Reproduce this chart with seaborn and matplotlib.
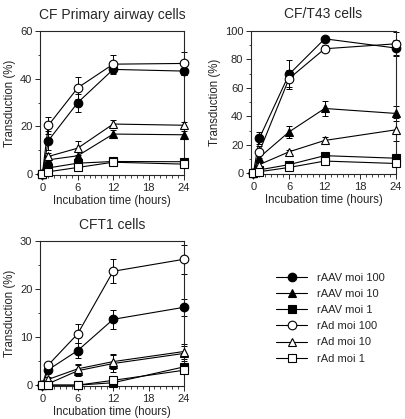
import numpy as np
import pandas as pd
import matplotlib
matplotlib.use("Agg")
import matplotlib.pyplot as plt
from matplotlib.lines import Line2D
from matplotlib.ticker import MultipleLocator
import seaborn as sns

sns.set_style("ticks")
plt.rcParams['font.family'] = ['Liberation Sans', 'DejaVu Sans']

# incubation times (hours)
hours = [0, 1, 6, 12, 24]

series_names = ['rAAV moi 100', 'rAAV moi 10', 'rAAV moi 1',
                'rAd moi 100', 'rAd moi 10', 'rAd moi 1']

# CF primary airway cells
primary_vals = {
    'rAAV moi 100': [0, 14.0, 30.0, 43.9, 43.2],
    'rAAV moi 10': [0, 6.0, 7.7, 16.8, 16.5],
    'rAAV moi 1': [0, 2.6, 4.6, 5.3, 5.2],
    'rAd moi 100': [0, 20.4, 36.2, 46.1, 46.4],
    'rAd moi 10': [0, 7.4, 10.9, 21.0, 20.5],
    'rAd moi 1': [0, 1.0, 2.8, 5.0, 4.2],
}
primary_err = {
    'rAAV moi 100': [0, 4.0, 3.8, 2.1, 1.5],
    'rAAV moi 10': [0, 1.5, 1.5, 1.5, 1.5],
    'rAAV moi 1': [0, 0.5, 0.8, 0.8, 0.8],
    'rAd moi 100': [0, 3.5, 4.6, 3.8, 5.0],
    'rAd moi 10': [0, 1.5, 2.8, 1.8, 1.5],
    'rAd moi 1': [0, 0.5, 0.8, 0.8, 0.8],
}

# CF/T43 cells
t43_vals = {
    'rAAV moi 100': [0, 24.5, 69.5, 94.5, 88.0],
    'rAAV moi 10': [0, 11.0, 29.0, 45.5, 42.0],
    'rAAV moi 1': [0, 2.3, 6.0, 12.3, 10.5],
    'rAd moi 100': [0, 15.0, 66.5, 87.5, 91.0],
    'rAd moi 10': [0, 6.0, 15.0, 23.0, 30.5],
    'rAd moi 1': [0, 1.0, 4.0, 8.5, 6.8],
}
t43_err = {
    'rAAV moi 100': [0, 4.3, 10.0, 1.5, 5.5],
    'rAAV moi 10': [0, 2.5, 4.0, 5.0, 5.5],
    'rAAV moi 1': [0, 0.8, 1.0, 1.5, 1.5],
    'rAd moi 100': [0, 4.0, 6.0, 2.5, 8.0],
    'rAd moi 10': [0, 1.0, 1.2, 2.5, 8.0],
    'rAd moi 1': [0, 0.5, 0.8, 1.0, 1.0],
}

# CFT1 cells
cft1_vals = {
    'rAAV moi 100': [0, 3.2, 7.2, 13.7, 16.2],
    'rAAV moi 10': [0, 0.3, 3.0, 4.5, 6.6],
    'rAAV moi 1': [0, 0, 0, 0.5, 3.8],
    'rAd moi 100': [0, 4.2, 10.7, 23.7, 26.2],
    'rAd moi 10': [0, 1.2, 3.4, 4.9, 7.0],
    'rAd moi 1': [0, 0, 0, 1.0, 3.1],
}
cft1_err = {
    'rAAV moi 100': [0, 0.4, 1.6, 2.0, 1.8],
    'rAAV moi 10': [0, 0.3, 1.2, 1.8, 1.5],
    'rAAV moi 1': [0, 0, 0, 0.3, 0.5],
    'rAd moi 100': [0, 0.4, 2.0, 2.5, 3.0],
    'rAd moi 10': [0, 0.5, 1.0, 1.6, 1.5],
    'rAd moi 1': [0, 0, 0, 0.4, 0.5],
}

styles = {
    'rAAV moi 100': ('o', 'black'),
    'rAAV moi 10': ('^', 'black'),
    'rAAV moi 1': ('s', 'black'),
    'rAd moi 100': ('o', 'white'),
    'rAd moi 10': ('^', 'white'),
    'rAd moi 1': ('s', 'white'),
}


def draw_panel(ax, vals, errs, title, ymax, ymajor, yminor):
    for name in series_names:
        marker, face = styles[name]
        df = pd.DataFrame({'hours': hours, 'value': vals[name]})
        ax.errorbar(df['hours'], df['value'], yerr=errs[name], fmt='none',
                    ecolor='black', elinewidth=0.7, capsize=2, capthick=0.7,
                    clip_on=False, zorder=2)
        sns.lineplot(data=df, x='hours', y='value', ax=ax, color='black',
                     linewidth=0.8, marker=marker, markersize=6.2,
                     markerfacecolor=face, markeredgecolor='black',
                     markeredgewidth=0.8, clip_on=False, zorder=3)
    ax.set_xlim(-0.4, 24)
    ax.set_ylim(-ymax * 0.006, ymax)
    ax.set_xticks([0, 6, 12, 18, 24])
    ax.xaxis.set_minor_locator(MultipleLocator(1))
    ax.yaxis.set_major_locator(MultipleLocator(ymajor))
    ax.yaxis.set_minor_locator(MultipleLocator(yminor))
    ax.tick_params(which='major', length=3.5, width=0.7, labelsize=8, pad=2)
    ax.tick_params(which='minor', length=1.8, width=0.6)
    for sp in ax.spines.values():
        sp.set_linewidth(0.8)
    ax.set_title(title, fontsize=10, pad=9)
    ax.set_xlabel('Incubation time (hours)', fontsize=8.3, labelpad=2)
    ax.set_ylabel('Transduction (%)', fontsize=8.3, labelpad=3)


W, H = 406, 419
fig = plt.figure(figsize=(W / 100, H / 100), dpi=100)
ax1 = fig.add_axes([40 / W, 1 - 175 / H, 144 / W, 144 / H])
ax2 = fig.add_axes([251 / W, 1 - 174 / H, 145 / W, 143 / H])
ax3 = fig.add_axes([40 / W, 1 - 386 / H, 144 / W, 145 / H])

draw_panel(ax1, primary_vals, primary_err, 'CF Primary airway cells', 60, 20, 10)
draw_panel(ax2, t43_vals, t43_err, 'CF/T43 cells', 100, 20, 10)
draw_panel(ax3, cft1_vals, cft1_err, 'CFT1 cells', 30, 10, 5)

handles = []
for name in series_names:
    marker, face = styles[name]
    handles.append(Line2D([], [], color='black', linewidth=0.8, marker=marker,
                          markersize=6.2, markerfacecolor=face,
                          markeredgecolor='black', markeredgewidth=0.8))
fig.legend(handles, series_names, loc='upper left',
           bbox_to_anchor=(266 / W, 1 - 263 / H), frameon=False, fontsize=8,
           handlelength=2.8, handletextpad=0.9, labelspacing=0.55)

fig.savefig('out.png', dpi=100)
